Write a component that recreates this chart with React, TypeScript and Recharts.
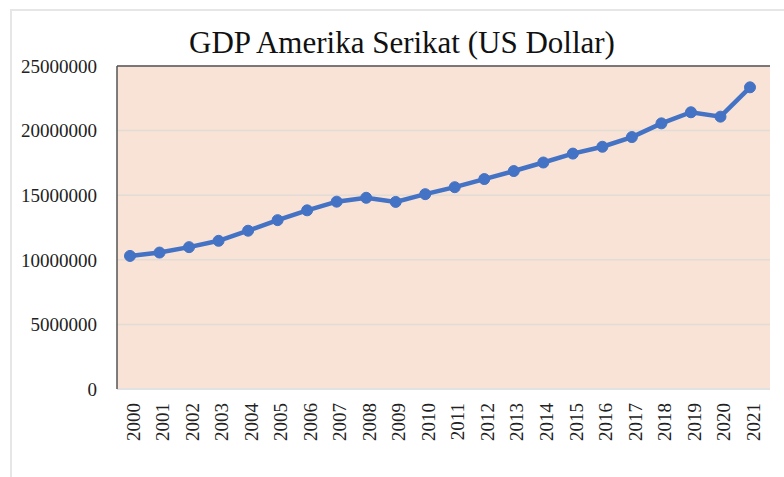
import { LineChart, Line, XAxis, YAxis, CartesianGrid, ReferenceLine } from "recharts";

const years = [
  "2000", "2001", "2002", "2003", "2004", "2005", "2006", "2007", "2008", "2009", "2010",
  "2011", "2012", "2013", "2014", "2015", "2016", "2017", "2018", "2019", "2020", "2021",
];

const gdp = [
  10300000, 10560000, 10980000, 11470000, 12250000, 13070000, 13830000, 14500000, 14800000, 14480000,
  15080000, 15620000, 16250000, 16870000, 17530000, 18220000, 18750000, 19500000, 20560000, 21420000,
  21080000, 23350000,
];

const yTicks = [0, 5000000, 10000000, 15000000, 20000000, 25000000];

const data = years.map((year, i) => ({ year, gdp: gdp[i] }));

const FONT = "'Liberation Serif', 'Times New Roman', serif";

const YearTick = ({ x, y, payload }: any) => (
  <text
    transform={`translate(${x + 3}, ${y + 6}) rotate(-90)`}
    textAnchor="end"
    dy="0.35em"
    fontFamily={FONT}
    fontSize={19}
    fill="#222"
  >
    {payload.value}
  </text>
);

export default function App() {
  return (
    <div style={{ position: "absolute", left: 0, top: 0, width: 784, height: 477, background: "#fff" }}>
      <div
        style={{
          position: "absolute",
          left: 10,
          top: 9,
          right: 0,
          bottom: 0,
          borderTop: "2px solid #e6e6e6",
          borderLeft: "2px solid #e6e6e6",
        }}
      />
      <div
        style={{
          position: "absolute",
          left: 0,
          width: 784,
          top: 25,
          textAlign: "center",
          fontFamily: FONT,
          fontSize: 31,
          color: "#111",
          paddingLeft: 20,
          boxSizing: "border-box",
        }}
      >
        GDP Amerika Serikat (US Dollar)
      </div>
      <div style={{ position: "absolute", left: 0, top: 0 }}>
        <LineChart width={784} height={477} data={data} margin={{ top: 66, right: 14, left: 0, bottom: 28 }}>
          <CartesianGrid vertical={false} stroke="#e2dcd6" strokeWidth={1.5} fill="#f8e3d6" />
          <XAxis
            dataKey="year"
            interval={0}
            height={60}
            padding={{ left: 13, right: 20 }}
            tickLine={false}
            axisLine={{ stroke: "#e2e2e2", strokeWidth: 2 }}
            tick={<YearTick />}
          />
          <YAxis
            width={117}
            domain={[0, 25000000]}
            ticks={yTicks}
            interval={0}
            tickLine={false}
            axisLine={{ stroke: "#555", strokeWidth: 1.5 }}
            tickMargin={14}
            tick={{ fontFamily: FONT, fontSize: 19, fill: "#222" }}
          />
          <YAxis
            yAxisId="right"
            orientation="right"
            width={0}
            domain={[0, 25000000]}
            tick={false}
            tickLine={false}
            axisLine={{ stroke: "#555", strokeWidth: 1.5 }}
          />
          <ReferenceLine y={25000000} stroke="#555" strokeWidth={1.5} />
          <Line
            type="linear"
            dataKey="gdp"
            stroke="#4472c4"
            strokeWidth={4.5}
            dot={{ r: 5.5, fill: "#4472c4", stroke: "#4472c4", strokeWidth: 1 }}
            isAnimationActive={false}
          />
        </LineChart>
      </div>
    </div>
  );
}
